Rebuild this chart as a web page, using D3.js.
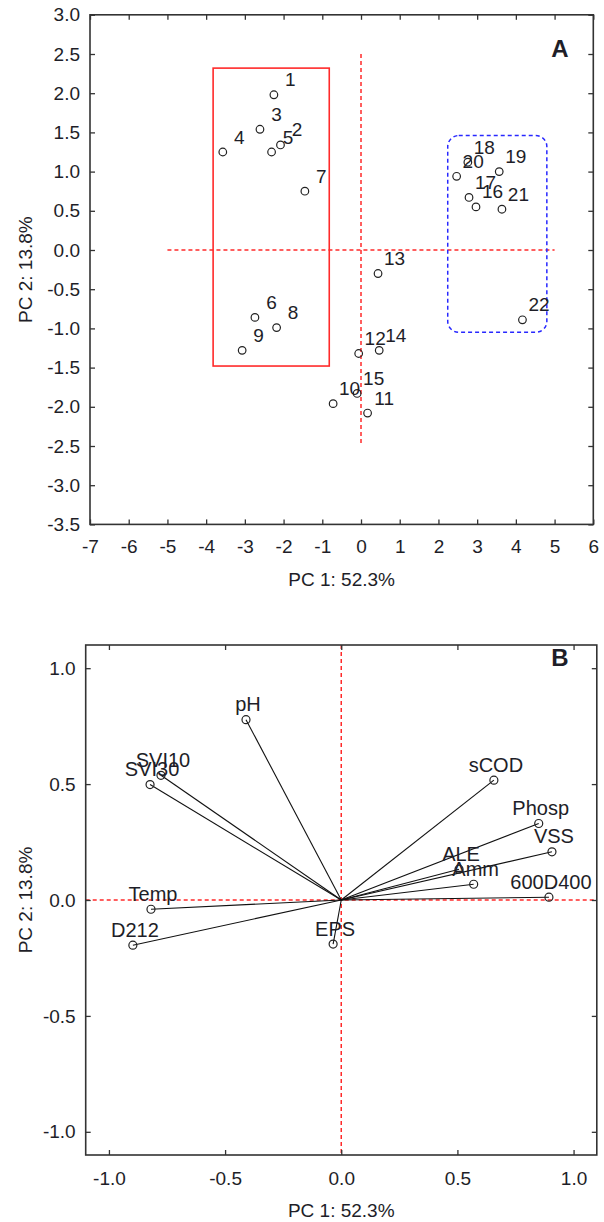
<!DOCTYPE html>
<html>
<head>
<meta charset="utf-8">
<script src="https://cdn.jsdelivr.net/npm/d3@7"></script>
<style>
  body { margin: 0; background: #fff; }
  svg { display: block; }
  text { font-family: "Liberation Sans", Arial, sans-serif; fill: #1e1e28; }
</style>
</head>
<body>
<svg id="chart" width="604" height="1222"></svg>
<script>
// ---- Panel A: sample scores on PC1 / PC2 ----
const sampleIds = ["1","2","3","4","5","6","7","8","9","10","11","12","13","14","15","16","17","18","19","20","21","22"];
const pc1Scores = [-2.25,-2.08,-2.61,-3.57,-2.31,-2.74,-1.45,-2.18,-3.07,-0.72,0.17,-0.06,0.44,0.47,-0.10,2.97,2.79,2.76,3.57,2.47,3.64,4.17];
const pc2Scores = [1.98,1.34,1.54,1.25,1.25,-0.86,0.75,-0.99,-1.28,-1.96,-2.08,-1.32,-0.30,-1.28,-1.83,0.55,0.67,1.12,1.00,0.94,0.52,-0.89];
const scoreXTicks = [-7,-6,-5,-4,-3,-2,-1,0,1,2,3,4,5,6];
const scoreYTicks = [3.0,2.5,2.0,1.5,1.0,0.5,0.0,-0.5,-1.0,-1.5,-2.0,-2.5,-3.0,-3.5];

// grouping boxes drawn in score space: [pc1 min, pc1 max, pc2 max, pc2 min]
const groupOneBox = [-3.82, -0.82, 2.32, -1.48];
const groupTwoBox = [2.24, 4.80, 1.46, -1.05];

// ---- Panel B: variable loadings on PC1 / PC2 ----
const variables   = ["pH","SVI10","SVI30","Temp","D212","EPS","sCOD","Phosp","VSS","ALE","Amm","600D400"];
const pc1Loadings = [-0.41,-0.776,-0.823,-0.819,-0.897,-0.035,0.657,0.850,0.907,0.507,0.570,0.894];
const pc2Loadings = [0.778,0.538,0.498,-0.040,-0.195,-0.19,0.517,0.330,0.208,0.133,0.068,0.012];
const loadingTicks = [-1.0,-0.5,0.0,0.5,1.0];

const xTitle = "PC 1: 52.3%";
const yTitle = "PC 2: 13.8%";

const svg = d3.select("#chart");
const FONT = 19;
const RED = "#ff2a2a";

function frame(g, x, y) {
  const [x0, x1] = x.range();
  const [y0, y1] = y.range();
  g.append("rect")
    .attr("x", x0).attr("y", y1)
    .attr("width", x1 - x0).attr("height", y0 - y1)
    .attr("fill", "none").attr("stroke", "#333").attr("stroke-width", 1.6);
}

function axes(g, x, y, xt, yt, xfmt, yfmt, pad) {
  const [x0, x1] = x.range();
  const [y0, y1] = y.range();
  const styleAxis = sel => {
    sel.select(".domain").remove();
    sel.selectAll(".tick line").attr("stroke", "#333").attr("stroke-width", 1.3);
    sel.selectAll(".tick text").attr("font-size", FONT).attr("fill", "#1e1e28")
      .attr("font-family", '"Liberation Sans", Arial, sans-serif');
  };
  g.append("g").attr("transform", `translate(0,${y0})`)
    .call(d3.axisBottom(x).tickValues(xt).tickFormat(xfmt).tickSizeInner(-5).tickSizeOuter(0).tickPadding(pad))
    .call(styleAxis);
  g.append("g").attr("transform", `translate(0,${y1})`)
    .call(d3.axisTop(x).tickValues(xt).tickFormat("").tickSizeInner(-5).tickSizeOuter(0))
    .call(styleAxis);
  g.append("g").attr("transform", `translate(${x0},0)`)
    .call(d3.axisLeft(y).tickValues(yt).tickFormat(yfmt).tickSizeInner(-5).tickSizeOuter(0).tickPadding(10))
    .call(styleAxis);
  g.append("g").attr("transform", `translate(${x1},0)`)
    .call(d3.axisRight(y).tickValues(yt).tickFormat("").tickSizeInner(-5).tickSizeOuter(0))
    .call(styleAxis);

  g.append("text")
    .attr("x", (x0 + x1) / 2).attr("y", y0 + 62)
    .attr("text-anchor", "middle").attr("font-size", FONT)
    .text(xTitle);
  g.append("text")
    .attr("transform", `translate(32,${(y0 + y1) / 2}) rotate(-90)`)
    .attr("text-anchor", "middle").attr("font-size", FONT)
    .text(yTitle);
}

function dashed(g, x1, y1, x2, y2) {
  g.append("line")
    .attr("x1", x1).attr("y1", y1).attr("x2", x2).attr("y2", y2)
    .attr("stroke", RED).attr("stroke-width", 1.5).attr("stroke-dasharray", "4,3");
}

// ================= Panel A =================
{
  const g = svg.append("g");
  const x = d3.scaleLinear().domain([-7, 6]).range([90, 593.3]);
  const y = d3.scaleLinear().domain([-3.5, 3]).range([524.4, 14.8]);

  dashed(g, x(-5), y(0), x(5), y(0));
  dashed(g, x(0), y(2.5), x(0), y(-2.5));

  g.append("rect")
    .attr("x", x(groupOneBox[0])).attr("y", y(groupOneBox[2]))
    .attr("width", x(groupOneBox[1]) - x(groupOneBox[0]))
    .attr("height", y(groupOneBox[3]) - y(groupOneBox[2]))
    .attr("fill", "none").attr("stroke", RED).attr("stroke-width", 1.6);

  g.append("rect")
    .attr("x", x(groupTwoBox[0])).attr("y", y(groupTwoBox[2]))
    .attr("width", x(groupTwoBox[1]) - x(groupTwoBox[0]))
    .attr("height", y(groupTwoBox[3]) - y(groupTwoBox[2]))
    .attr("rx", 11).attr("ry", 11)
    .attr("fill", "none").attr("stroke", "#2828ff").attr("stroke-width", 1.5)
    .attr("stroke-dasharray", "4,3");

  frame(g, x, y);
  axes(g, x, y, scoreXTicks, scoreYTicks, d => String(d), d => d.toFixed(1), 15);

  const pts = sampleIds.map((id, i) => ({ id, px: pc1Scores[i], py: pc2Scores[i] }));
  g.selectAll("circle.score").data(pts).join("circle")
    .attr("class", "score")
    .attr("cx", d => x(d.px)).attr("cy", d => y(d.py)).attr("r", 3.8)
    .attr("fill", "none").attr("stroke", "#222").attr("stroke-width", 1.2);
  g.selectAll("text.score").data(pts).join("text")
    .attr("class", "score")
    .attr("x", d => x(d.px) + 16.5).attr("y", d => y(d.py) - 8.5)
    .attr("text-anchor", "middle").attr("font-size", FONT)
    .text(d => d.id);

  g.append("text").attr("x", 560).attr("y", 57)
    .attr("text-anchor", "middle").attr("font-size", 24).attr("font-weight", "bold")
    .text("A");
}

// ================= Panel B =================
{
  const g = svg.append("g");
  const x = d3.scaleLinear().domain([-1.1, 1.1]).range([85.7, 596.8]);
  const y = d3.scaleLinear().domain([-1.1, 1.1]).range([1155, 645]);

  dashed(g, x(-1.1), y(0), x(1.1), y(0));
  dashed(g, x(0), y(1.1), x(0), y(-1.1));

  frame(g, x, y);
  axes(g, x, y, loadingTicks, loadingTicks, d => d.toFixed(1), d => d.toFixed(1), 17);

  const vecs = variables.map((name, i) => ({ name, px: pc1Loadings[i], py: pc2Loadings[i] }));
  g.selectAll("line.load").data(vecs).join("line")
    .attr("class", "load")
    .attr("x1", x(0)).attr("y1", y(0))
    .attr("x2", d => x(d.px)).attr("y2", d => y(d.py))
    .attr("stroke", "#111").attr("stroke-width", 1.1);
  g.selectAll("circle.load").data(vecs).join("circle")
    .attr("class", "load")
    .attr("cx", d => x(d.px)).attr("cy", d => y(d.py)).attr("r", 4)
    .attr("fill", "none").attr("stroke", "#222").attr("stroke-width", 1.2);
  g.selectAll("text.load").data(vecs).join("text")
    .attr("class", "load")
    .attr("x", d => x(d.px) + 2).attr("y", d => y(d.py) - 8.5)
    .attr("text-anchor", "middle").attr("font-size", 20)
    .text(d => d.name);

  g.append("text").attr("x", 560).attr("y", 666)
    .attr("text-anchor", "middle").attr("font-size", 24).attr("font-weight", "bold")
    .text("B");
}
</script>
</body>
</html>
